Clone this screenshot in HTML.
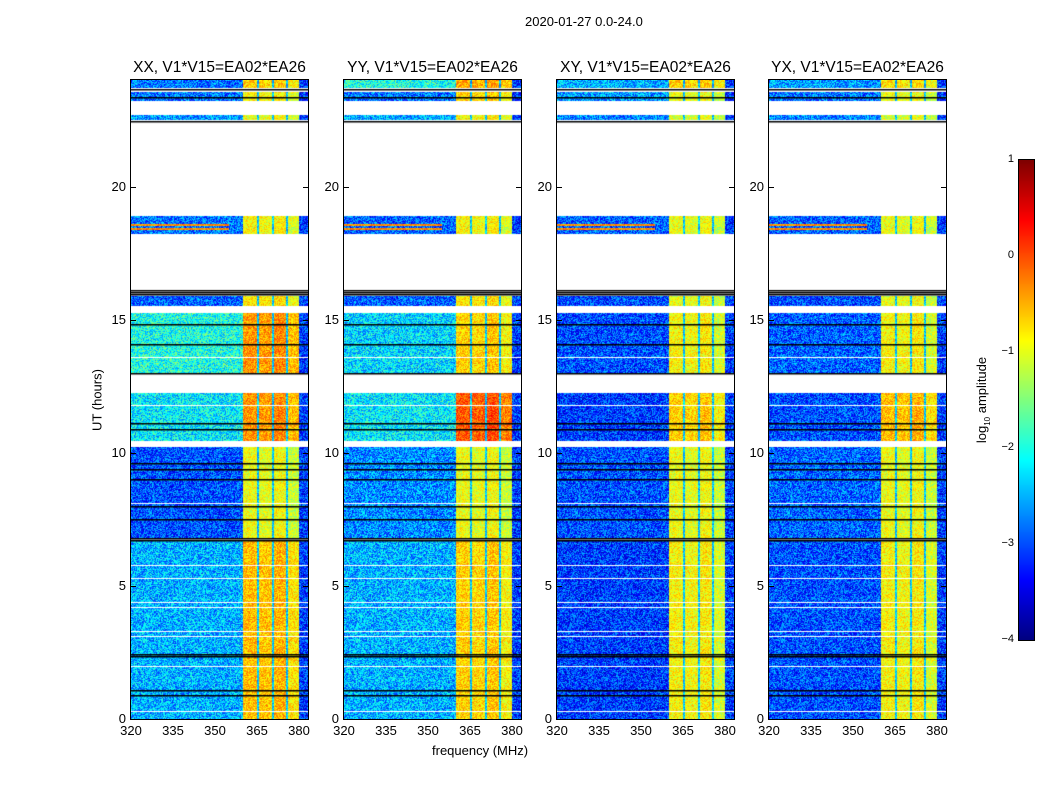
<!DOCTYPE html>
<html><head><meta charset="utf-8"><style>
body{margin:0;background:#fff;}
#wrap{position:relative;width:1050px;height:800px;font-family:"Liberation Sans",sans-serif;color:#000;overflow:hidden;}
.t{position:absolute;white-space:nowrap;}
canvas{position:absolute;}
.frame{position:absolute;border:1px solid #000;box-sizing:border-box;}
</style></head><body>
<div id="wrap">
<div class="t" style="left:525px;top:14px;font-size:13px;">2020-01-27 0.0-24.0</div>
<div class="t" style="left:97px;top:400px;font-size:13px;transform:translate(-50%,-50%) rotate(-90deg);transform-origin:center;">UT (hours)</div>
<div class="t" style="left:432px;top:743px;font-size:13px;">frequency (MHz)</div>
<canvas id="cb" width="16" height="481" style="left:1019px;top:160px;"></canvas>
<div class="frame" style="left:1018px;top:159px;width:17px;height:482px;"></div>
<div class="t" style="left:983px;top:400px;font-size:13px;transform:translate(-50%,-50%) rotate(-90deg);">log<sub style="font-size:8px">10</sub> amplitude</div>
</div>
<script>
// ---- data ----
const panelTitles=["XX, V1*V15=EA02*EA26","YY, V1*V15=EA02*EA26","XY, V1*V15=EA02*EA26","YX, V1*V15=EA02*EA26"];
const segStart=[23.7,23.2,22.5,18.2,15.5,13.0,10.45,6.75,0.0];
const segEnd  =[24.0,23.55,22.7,18.9,15.9,15.25,12.25,10.2,6.7];
const lowXX=[-2.8,-2.8,-2.6,-2.8,-2.9,-2.0,-2.2,-3.0,-2.5];
const lowYY=[-2.0,-2.8,-2.5,-2.9,-2.9,-2.3,-2.2,-2.7,-2.5];
const lowXY=[-2.5,-2.6,-2.7,-2.9,-3.0,-3.0,-3.1,-3.0,-3.1];
const lowYX=[-2.6,-2.8,-2.7,-2.9,-3.0,-2.9,-3.0,-2.9,-3.0];
const highXX=[-0.8,-1.0,-1.1,-1.0,-0.9,-0.5,-0.5,-1.1,-0.7];
const highYY=[-0.6,-0.8,-1.0,-1.0,-0.9,-0.8,-0.2,-1.1,-0.8];
const highXY=[-0.8,-1.1,-1.2,-1.1,-1.1,-1.0,-0.8,-1.1,-1.0];
const highYX=[-0.9,-1.1,-1.2,-1.1,-1.1,-1.0,-0.7,-1.1,-1.0];
const lowSets=[lowXX,lowYY,lowXY,lowYX];
const highSets=[highXX,highYY,highXY,highYX];
const subBandEdges=[360,365,370.5,375.5,380];
const subBandOffset=[0.15,0.1,0.2,-0.05];
const edgeBandValue=-3.1; // 380-383.2 MHz
const blackLines=[23.68,23.38,22.45,16.12,16.05,15.98,14.85,14.1,13.0,11.1,10.9,9.6,9.4,9.0,8.0,7.5,6.8,6.74,2.45,2.38,1.1,0.9];
const whiteLines=[13.6,11.8,8.1,5.8,5.3,4.4,4.2,3.3,3.1,2.0,0.3];
const hotRows=[18.55,18.4];
const xTicks=[320,335,350,365,380];
const yTicks=[0,5,10,15,20];
const cbTicks=[1,0,-1,-2,-3,-4];
// ---- geometry ----
const panelLeft=[131,344,557,769], PT=80, PW=177, PH=639;
const fMin=320, fMax=383.2, hMin=0, hMax=24, vMin=-4, vMax=1;
const xs=f=>(f-fMin)/(fMax-fMin)*PW;
const ys=h=>PH-(h-hMin)/(hMax-hMin)*PH;
function jet(v){let t=Math.max(0,Math.min(1,(v-vMin)/(vMax-vMin)));
 const c=x=>Math.max(0,Math.min(1,1.5-Math.abs(4*t-x)));
 return [c(3)*255,c(2)*255,c(1)*255];}
function hash(x,y){let n=x*374761393+y*668265263;n=(n^(n>>13))*1274126177;return ((n^(n>>16))&1023)/1023;}
const wrap=document.getElementById('wrap');
panelTitles.forEach((title,p)=>{
 const L=panelLeft[p];
 const cv=document.createElement('canvas');cv.width=PW;cv.height=PH;
 cv.style.left=L+'px';cv.style.top=PT+'px';
 
 
 wrap.appendChild(cv);
 const ctx=cv.getContext('2d');const img=ctx.createImageData(PW,PH);
 for(let y=0;y<PH;y++){
  const h=hMax-(y+0.5)/PH*(hMax-hMin);
  let s=-1;for(let i=0;i<segStart.length;i++)if(h>=segStart[i]&&h<=segEnd[i])s=i;
  for(let x=0;x<PW;x++){
   const k=(y*PW+x)*4;
   if(s<0){img.data[k]=img.data[k+1]=img.data[k+2]=255;img.data[k+3]=255;continue;}
   const f=fMin+(x+0.5)/PW*(fMax-fMin);
   let v,amp=1.3;
   if(f<subBandEdges[0]) v=lowSets[p][s];
   else if(f>=subBandEdges[subBandEdges.length-1]) v=edgeBandValue;
   else{let b=0;for(let j=0;j<subBandOffset.length;j++)if(f>=subBandEdges[j])b=j;
    v=highSets[p][s]+subBandOffset[b];amp=0.8;
    if(Math.abs(f-subBandEdges[b])<0.6&&b>0) v=-2.4;}
   v+= (hash(x,y)-0.5)*amp;
   if(f<355&&hotRows.some(r=>Math.abs(h-r)<0.04)&&s===3) v=-0.3+(hash(x,y)-0.5)*0.6;
   const c=jet(v);img.data[k]=c[0];img.data[k+1]=c[1];img.data[k+2]=c[2];img.data[k+3]=255;
  }}
 ctx.putImageData(img,0,0);
 whiteLines.forEach(h=>{const y=ys(h);if(segStart.some((a,i)=>h>=a&&h<=segEnd[i])){ctx.fillStyle='#fff';ctx.fillRect(0,Math.round(y),PW,1);}});
 blackLines.forEach(h=>{ctx.fillStyle='#000';ctx.fillRect(0,Math.round(ys(h)),PW,1.5);});
 const fr=document.createElement('div');fr.className='frame';
 fr.style.cssText=`left:${L-1}px;top:${PT-1}px;width:${PW+2}px;height:${PH+2}px;`;
 
 
 wrap.appendChild(fr);
 const tt=document.createElement('div');tt.className='t';tt.textContent=title;
 tt.style.cssText=`left:${L+PW/2}px;top:59px;font-size:15.5px;transform:translateX(-50%);`;
 
 
 wrap.appendChild(tt);
 yTicks.forEach(v=>{const y=PT+ys(v);
  const lb=document.createElement('div');lb.className='t';lb.textContent=v;
  lb.style.cssText=`right:${1050-L+5}px;top:${y-8}px;font-size:13px;`;
  
  
  wrap.appendChild(lb);
  [L,L+PW-5].forEach(xx=>{const tk=document.createElement('div');tk.style.cssText=`position:absolute;left:${xx}px;top:${y}px;width:5px;height:1px;background:#000;`;
   
   
   wrap.appendChild(tk);});
 });
 xTicks.forEach(v=>{const x=L+xs(v);
  const lb=document.createElement('div');lb.className='t';lb.textContent=v;
  lb.style.cssText=`left:${x}px;top:723px;font-size:13px;transform:translateX(-50%);`;
  
  
  wrap.appendChild(lb);
 });
});
// colorbar
const cb=document.getElementById('cb').getContext('2d');
for(let y=0;y<481;y++){const v=vMax-(y/480)*(vMax-vMin);const c=jet(v);cb.fillStyle=`rgb(${c[0]|0},${c[1]|0},${c[2]|0})`;cb.fillRect(0,y,16,1);}
cbTicks.forEach(v=>{const y=160+(vMax-v)/(vMax-vMin)*480;
 const lb=document.createElement('div');lb.className='t';lb.textContent=v<0?'\u2212'+(-v):v;
 lb.style.cssText=`right:${1050-1014}px;top:${y-7}px;font-size:11px;`;
 
 
 wrap.appendChild(lb);
});
</script>
</body></html>
